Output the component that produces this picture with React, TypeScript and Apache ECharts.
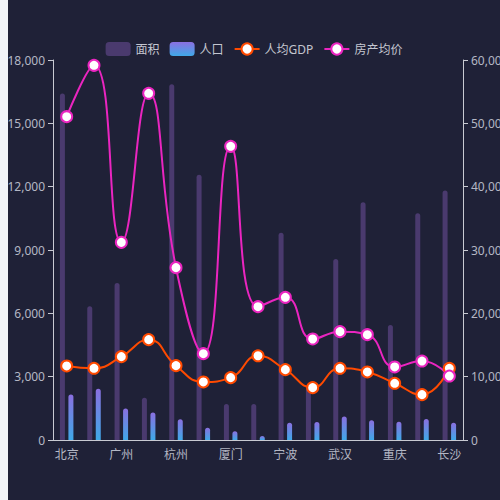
import React, { useEffect, useRef } from 'react';
import * as echarts from 'echarts';

const cities = [
  '北京', '上海', '广州', '深圳', '杭州', '南京', '厦门', '苏州',
  '宁波', '天津', '武汉', '成都', '重庆', '西安', '长沙',
];

// 面积 (km²)
const areaValues = [16410, 6340, 7434, 1997, 16853, 12560, 1700, 1700, 9816, 2510, 8569, 11265, 5450, 10740, 11819];
// 人口 (万)
const popValues = [2154, 2424, 1490, 1302, 981, 583, 411, 190, 820, 853, 1108, 933, 867, 995, 815];
// 人均GDP
const gdpValues = [3507, 3397, 3948, 4754, 3521, 2749, 2953, 3990, 3332, 2480, 3397, 3223, 2687, 2148, 3397];
// 房产均价
const priceValues = [51050, 59160, 31210, 54740, 27210, 13630, 46370, 21050, 22530, 15950, 17110, 16630, 11530, 12470, 10100];

const labelColor = '#b4b7c4';
const axisColor = '#c8cad2';

export default function App() {
  const chartRef = useRef<HTMLDivElement>(null);

  useEffect(() => {
    if (!chartRef.current) return;
    document.body.style.background = '#f2f4f8';
    const myChart = echarts.init(chartRef.current, null, { renderer: 'svg' });

    const option = {
      animation: false,
      backgroundColor: '#1f2137',
      textStyle: { fontFamily: "'Noto Sans', 'Noto Sans CJK SC', sans-serif" },
      legend: {
        top: 37,
        left: 'center',
        itemWidth: 25,
        itemHeight: 14,
        itemGap: 10,
        textStyle: { color: '#c4c6d0', fontSize: 12 },
        data: ['面积', '人口', '人均GDP', '房产均价'],
      },
      grid: { left: 45, right: 37, top: 60, bottom: 60, containLabel: false, outerBoundsMode: 'none' },
      xAxis: {
        type: 'category',
        data: cities,
        axisLine: { lineStyle: { color: axisColor } },
        axisTick: { show: false },
        axisLabel: { color: labelColor, fontSize: 12, interval: 1 },
      },
      yAxis: [
        {
          type: 'value',
          min: 0,
          max: 18000,
          interval: 3000,
          splitLine: { show: false },
          axisLine: { show: true, lineStyle: { color: axisColor } },
          axisTick: { show: true },
          axisLabel: { color: labelColor, fontSize: 12 },
        },
        {
          type: 'value',
          min: 0,
          max: 60000,
          interval: 10000,
          splitLine: { show: false },
          axisLine: { show: true, lineStyle: { color: axisColor } },
          axisTick: { show: true },
          axisLabel: { color: labelColor, fontSize: 12 },
        },
      ],
      series: [
        {
          name: '面积',
          type: 'bar',
          data: areaValues,
          barWidth: 5,
          barGap: '70%',
          itemStyle: { color: '#4a3a6e', borderRadius: [3, 3, 0, 0] },
        },
        {
          name: '人口',
          type: 'bar',
          data: popValues,
          barWidth: 5,
          itemStyle: {
            borderRadius: [3, 3, 0, 0],
            color: new echarts.graphic.LinearGradient(0, 0, 0, 1, [
              { offset: 0, color: '#8a6fe0' },
              { offset: 1, color: '#3fa9e8' },
            ]),
          },
        },
        {
          name: '人均GDP',
          type: 'line',
          data: gdpValues,
          smooth: true,
          symbol: 'circle',
          symbolSize: 11,
          lineStyle: { color: '#ff4a00', width: 2 },
          itemStyle: { color: '#ffffff', borderColor: '#ff4a00', borderWidth: 2 },
        },
        {
          name: '房产均价',
          type: 'line',
          yAxisIndex: 1,
          data: priceValues,
          smooth: true,
          symbol: 'circle',
          symbolSize: 11,
          lineStyle: { color: '#ea25c0', width: 2 },
          itemStyle: { color: '#ffffff', borderColor: '#ea25c0', borderWidth: 2 },
        },
      ],
    };

    myChart.setOption(option);
    return () => {
      myChart.dispose();
    };
  }, []);

  return (
    <div
      ref={chartRef}
      style={{ position: 'fixed', left: 8, top: 0, width: 492, height: 500 }}
    />
  );
}
